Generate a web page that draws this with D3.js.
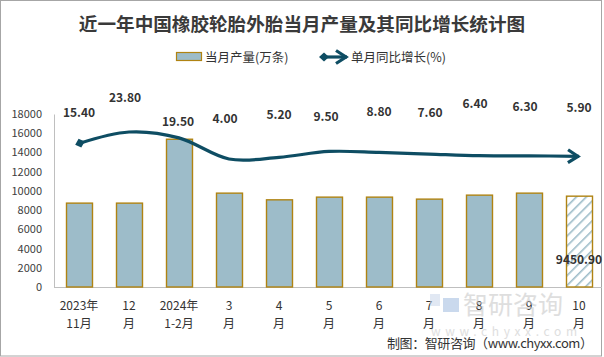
<!DOCTYPE html>
<html><head><meta charset="utf-8">
<script src="https://cdn.jsdelivr.net/npm/d3@7"></script>
<style>body{margin:0;background:#fff} svg{display:block}</style>
</head><body>
<svg id="c" width="604" height="357"></svg>
<script>
// ---- data ----
const categories = ["2023年11月","12月","2024年1-2月","3月","4月","5月","6月","7月","8月","9月","10月"];
const tickLine1 = ["2023年","12","2024年","3","4","5","6","7","8","9","10"];
const tickLine2 = ["11月","月","1-2月","月","月","月","月","月","月","月","月"];
const production = [8727, 8727, 15375, 9766, 9070, 9350, 9350, 9143, 9558, 9766, 9450.9];
const growth = [15.4, 23.8, 19.5, 4.0, 5.2, 9.5, 8.8, 7.6, 6.4, 6.3, 5.9];
const yTicks = [0,2000,4000,6000,8000,10000,12000,14000,16000,18000];
// label layout nudges (pixels, relative to label row)
const labelDx = [0,-4,-1,-4,0,-3,0,1,-4,-4,0];
const labelDy = [1,-14,10,7,3,5,0,1,-8,-5,-4];

const FONT = "'Noto Sans CJK SC','Microsoft YaHei',sans-serif";
const barFill = "#9dbcc9", barStroke = "#b08312", lineColor = "#0e4d63", txt = "#333";

const svg = d3.select("#c");
const W = 604, H = 357;
svg.append("rect").attr("x",0.5).attr("y",0.5).attr("width",601).attr("height",355.5)
  .attr("fill","#fff").attr("stroke","#a6a6a6");

const defs = svg.append("defs");
const pat = defs.append("pattern").attr("id","hatch").attr("patternUnits","userSpaceOnUse")
  .attr("width",7).attr("height",7).attr("patternTransform","rotate(45)");
pat.append("rect").attr("width",7).attr("height",7).attr("fill","#fff");
pat.append("line").attr("x1",0).attr("y1",0).attr("x2",0).attr("y2",7)
  .attr("stroke",barFill).attr("stroke-width",3.2);

defs.append("marker").attr("id","mStart").attr("markerUnits","userSpaceOnUse")
  .attr("viewBox","-8 -8 16 16").attr("markerWidth",16).attr("markerHeight",16)
  .attr("refX",0).attr("refY",0).attr("orient","auto")
  .append("path").attr("d","M-4,0 L1,-4.5 L6,0 L1,4.5 Z").attr("fill",lineColor);
defs.append("marker").attr("id","mEnd").attr("markerUnits","userSpaceOnUse")
  .attr("viewBox","-14 -9 16 18").attr("markerWidth",16).attr("markerHeight",18)
  .attr("refX",0).attr("refY",0).attr("orient","auto")
  .append("path").attr("d","M-11,-6.5 L-1,0 L-11,6.5").attr("fill","none")
  .attr("stroke",lineColor).attr("stroke-width",3.2).attr("stroke-linejoin","miter");

// ---- scales ----
const x = d3.scaleBand().domain(categories).range([54,604]).paddingInner(0.48).paddingOuter(0.24);
const y = d3.scaleLinear().domain([0,18000]).range([287,114]);
const y2 = d3.scaleLinear().domain([-90,37]).range([287,114]);

// title
svg.append("text").attr("x",302).attr("y",31).attr("text-anchor","middle")
  .attr("font-family","'Noto Sans CJK SC',serif").attr("font-weight","bold").attr("font-size",18.6)
  .attr("fill","#3a3a3a").text("近一年中国橡胶轮胎外胎当月产量及其同比增长统计图");

// legend
svg.append("rect").attr("x",176.5).attr("y",52.5).attr("width",25).attr("height",8)
  .attr("fill",barFill).attr("stroke",barStroke).attr("stroke-width",1.2);
svg.append("text").attr("x",205).attr("y",61.5).attr("font-family",FONT).attr("font-size",12.5)
  .attr("fill",txt).text("当月产量(万条)");
svg.append("line").attr("x1",323).attr("y1",57).attr("x2",347).attr("y2",57)
  .attr("stroke",lineColor).attr("stroke-width",3.2)
  .attr("marker-start","url(#mStart)").attr("marker-end","url(#mEnd)");
svg.append("text").attr("x",351).attr("y",61.5).attr("font-family",FONT).attr("font-size",12.5)
  .attr("fill",txt).text("单月同比增长(%)");

// y axis
const yAxis = d3.axisLeft(y).tickValues(yTicks).tickSize(0).tickPadding(12).tickFormat(d3.format("d"));
const gy = svg.append("g").attr("transform","translate(54,0)").call(yAxis);
gy.select(".domain").attr("stroke","#bfbfbf");
gy.selectAll("text").attr("font-family",FONT).attr("font-size",11).attr("fill","#404040");

// x axis
const xAxis = d3.axisBottom(x).tickSize(0).tickFormat(() => "");
const gx = svg.append("g").attr("transform","translate(0,287)").call(xAxis);
gx.select(".domain").attr("stroke","#bfbfbf").attr("d","M54,0.5H602");
gx.selectAll(".tick").each(function(d,i){
  const t = d3.select(this).select("text").attr("y",0).attr("dy",null)
    .attr("font-family",FONT).attr("font-size",12).attr("fill",txt);
  t.append("tspan").attr("x",0).attr("y",23).text(tickLine1[i]);
  t.append("tspan").attr("x",0).attr("y",41).text(tickLine2[i]);
});

// bars
svg.append("g").selectAll("rect").data(production).join("rect")
  .attr("x",(d,i)=>x(categories[i])+0.5)
  .attr("y",d=>y(d))
  .attr("width",x.bandwidth())
  .attr("height",d=>y(0)-y(d))
  .attr("fill",(d,i)=> i===production.length-1 ? "url(#hatch)" : barFill)
  .attr("stroke",barStroke).attr("stroke-width",1.4);

// last bar label
const li = production.length-1;
svg.append("text").attr("x",x(categories[li])+x.bandwidth()/2).attr("y",264)
  .attr("text-anchor","middle").attr("font-family",FONT).attr("font-weight","bold")
  .attr("font-size",12).attr("fill",txt).text(d3.format(".2f")(production[li]));

// line
const cx = i => x(categories[i]) + x.bandwidth()/2;
const line = d3.line().x((d,i)=>cx(i)).y(d=>y2(d)).curve(d3.curveCardinal.tension(0));
svg.append("path").datum(growth).attr("d",line).attr("fill","none")
  .attr("stroke",lineColor).attr("stroke-width",3.2)
  .attr("marker-start","url(#mStart)").attr("marker-end","url(#mEnd)");

// line labels
svg.append("g").selectAll("text").data(growth).join("text")
  .attr("x",(d,i)=>cx(i)+labelDx[i])
  .attr("y",(d,i)=>116+labelDy[i])
  .attr("text-anchor","middle").attr("font-family",FONT).attr("font-weight","bold")
  .attr("font-size",12).attr("fill",txt).text(d=>d3.format(".2f")(d));

// watermark
const wm = svg.append("g").attr("opacity",0.55);
wm.append("rect").attr("x",430).attr("y",294).attr("width",10).attr("height",12).attr("fill","#c9d7ea");
wm.append("rect").attr("x",443).attr("y",298).attr("width",16).attr("height",14).attr("fill","#9fbbe0");
wm.append("text").attr("x",463).attr("y",314).attr("font-family",FONT).attr("font-size",25)
  .attr("fill","#c4c4c4").text("智研咨询");
wm.append("text").attr("x",431).attr("y",336).attr("font-family",FONT).attr("font-size",12)
  .attr("fill","#c4c4c4").attr("textLength",146).attr("lengthAdjust","spacing").text("www.chyxx.com");

// footer
svg.append("text").attr("x",387).attr("y",348).attr("font-family",FONT).attr("font-size",13)
  .attr("fill",txt).attr("textLength",206).attr("lengthAdjust","spacing")
  .text("制图：智研咨询（www.chyxx.com）");
</script>
</body></html>
